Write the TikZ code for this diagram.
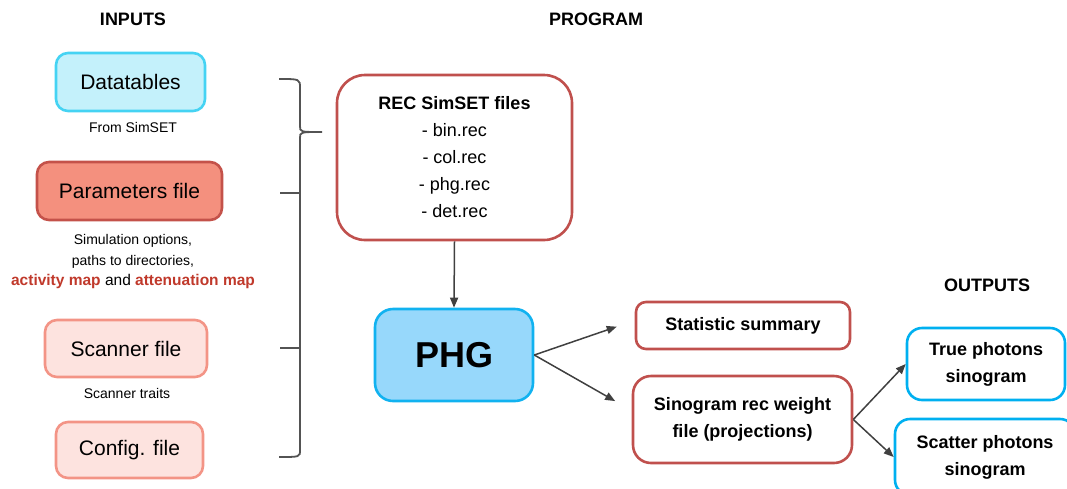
\documentclass[tikz,border=0pt]{standalone}
\usepackage{fontspec}
\setmainfont{Liberation Sans}
\usetikzlibrary{arrows.meta}
\definecolor{dtfill}{HTML}{C4F1FB}
\definecolor{dtline}{HTML}{45D3F3}
\definecolor{parfill}{HTML}{F4907E}
\definecolor{parline}{HTML}{C4524A}
\definecolor{scfill}{HTML}{FDE3DF}
\definecolor{scline}{HTML}{F39486}
\definecolor{recline}{HTML}{C0504D}
\definecolor{phgfill}{HTML}{97D8FB}
\definecolor{phgline}{HTML}{11B2F0}
\definecolor{outline}{HTML}{00B0F0}
\definecolor{redtxt}{HTML}{C0392B}
\definecolor{arrowgray}{HTML}{404040}
\begin{document}
\begin{tikzpicture}[x=1pt,y=-1pt,
  box/.style={draw, line width=2.6pt, align=center, inner sep=0pt},
  inlabel/.style={font=\fontsize{21}{25}\selectfont},
  boldlabel/.style={font=\fontsize{18}{27}\selectfont\bfseries},
  smalltext/.style={font=\fontsize{14}{20.5}\selectfont, align=center},
  title/.style={font=\fontsize{18}{22}\selectfont\bfseries},
  arr/.style={-{Triangle[length=10pt,width=8pt]}, draw=arrowgray, line width=1.5pt},
  bracket/.style={draw=arrowgray!90, line width=1.8pt}]
  \useasboundingbox (0,0) rectangle (1067,488);
  \clip (0,0) rectangle (1067,488);
  % titles
  \node[title] (tin) at (133,19) {INPUTS};
  \node[title] (tprog) at (596,19) {PROGRAM};
  \node[title] (tout) at (987,285) {OUTPUTS};
  % inputs
  \node[box, inlabel, fill=dtfill, draw=dtline, rounded corners=12pt,
        minimum width=149pt, minimum height=58pt] (data) at (130.5,82) {Datatables};
  \node[smalltext] (datanote) at (133,127) {From SimSET};
  \node[box, inlabel, fill=parfill, draw=parline, rounded corners=12pt,
        minimum width=185pt, minimum height=58pt] (par) at (129.5,191) {Parameters file};
  \node[smalltext] (parnote) at (133,262) {Simulation options,\\paths to directories,\\
    \fontsize{15.5}{20.5}\selectfont\textcolor{redtxt}{\bfseries activity map} and \textcolor{redtxt}{\bfseries attenuation map}};
  \node[box, inlabel, fill=scfill, draw=scline, rounded corners=12pt,
        minimum width=162pt, minimum height=57pt] (scan) at (126,348.5) {Scanner file};
  \node[smalltext] (scannote) at (127,393) {Scanner traits};
  \node[box, inlabel, fill=scfill, draw=scline, rounded corners=12pt,
        minimum width=147pt, minimum height=56pt] (conf) at (129.5,450) {Config. file};
  % brace
  \draw[bracket] (279,79) .. controls (300,79) .. (300,88) -- (300,126)
    .. controls (300,132) .. (322,132) .. controls (300,132) .. (300,138)
    -- (300,450) .. controls (300,457) .. (279,457);
  \foreach \y in {193,348} {
    \draw[bracket] (280,\y) -- (300,\y);
  }
  % program
  \node[box, boldlabel, draw=recline, fill=white, rounded corners=28pt,
        minimum width=235pt, minimum height=165pt] (rec) at (454.5,157.5)
        {REC SimSET files\\\mdseries - bin.rec\\\mdseries - col.rec\\\mdseries - phg.rec\\\mdseries - det.rec};
  \node[box, font=\fontsize{36}{40}\selectfont\bfseries, fill=phgfill, draw=phgline,
        rounded corners=18pt, minimum width=158pt, minimum height=92pt] (phg) at (454,355) {PHG};
  \node[box, boldlabel, draw=recline, rounded corners=10pt,
        minimum width=214pt, minimum height=47pt] (stat) at (743,325.5) {Statistic summary};
  \node[box, boldlabel, draw=recline, rounded corners=18pt,
        minimum width=219pt, minimum height=87pt] (sino) at (742.5,419.5) {Sinogram rec weight\\file (projections)};
  % outputs
  \node[box, boldlabel, draw=outline, rounded corners=15pt,
        minimum width=158pt, minimum height=72pt, text depth=3pt] (true) at (986,364) {True photons\\sinogram};
  \node[box, boldlabel, draw=outline, rounded corners=15pt,
        minimum width=180pt, minimum height=76pt] (scat) at (985,457) {Scatter photons\\sinogram};
  % connectors
  \draw[arr] (rec.south) -- (phg.north);
  \draw[arr, shorten >=19pt] (phg.east) -- ([yshift=5pt]stat.west);
  \draw[arr, shorten >=19pt] (phg.east) -- ([yshift=9pt]sino.west);
  \draw[arr] (sino.east) -- (true.west);
  \draw[arr] (sino.east) -- (scat.west);
\end{tikzpicture}
\end{document}
